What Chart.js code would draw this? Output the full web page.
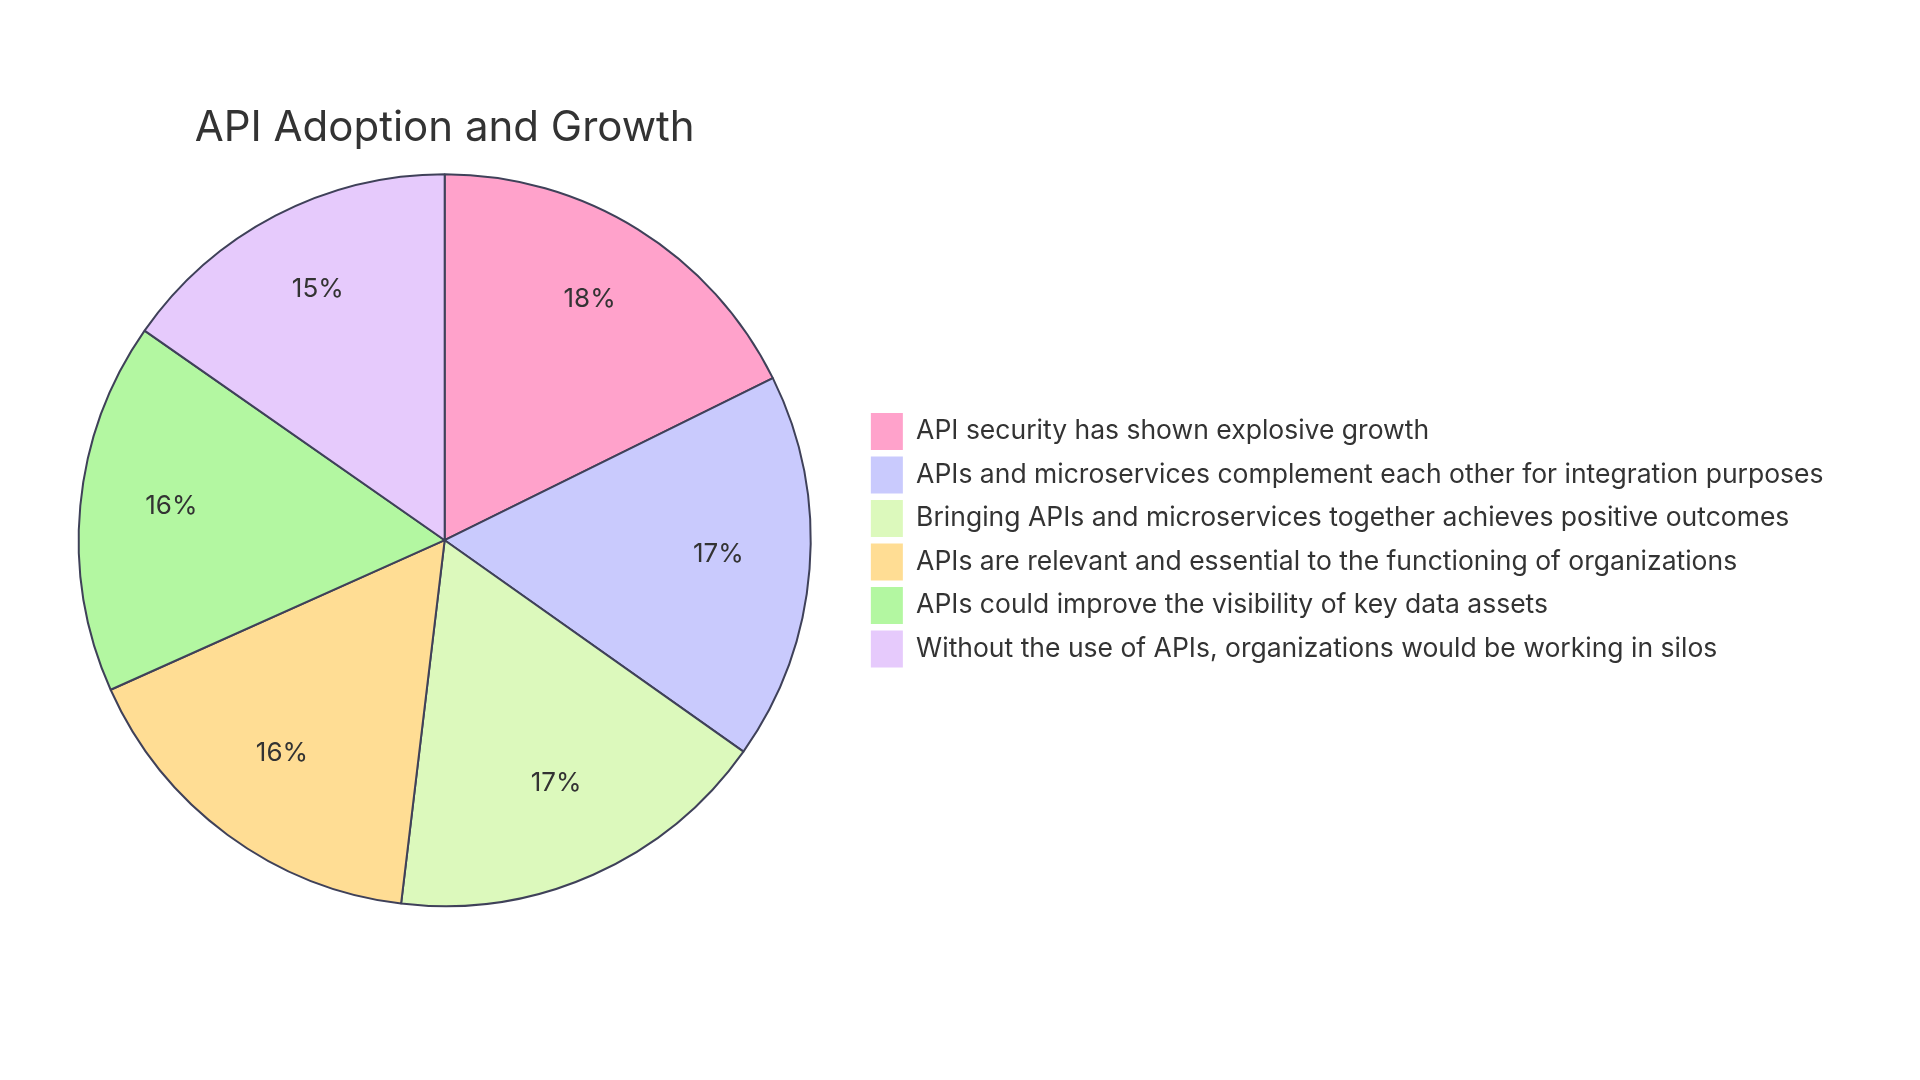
<!DOCTYPE html>
<html>
<head>
<meta charset="utf-8">
<script src="https://cdn.jsdelivr.net/npm/chart.js@4/dist/chart.umd.min.js"></script>
<style>
html,body{margin:0;padding:0;background:#fff;}
#wrap{position:absolute;left:0;top:0;width:1920px;height:1080px;}
</style>
</head>
<body>
<div id="wrap"><canvas id="c" width="1920" height="1080"></canvas></div>
<script>
const chartTitle = "API Adoption and Growth";
const categories = [
  "API security has shown explosive growth",
  "APIs and microservices complement each other for integration purposes",
  "Bringing APIs and microservices together achieves positive outcomes",
  "APIs are relevant and essential to the functioning of organizations",
  "APIs could improve the visibility of key data assets",
  "Without the use of APIs, organizations would be working in silos"
];
const values = [17.7, 17.1, 17.1, 16.4, 16.4, 15.3];
const colors = ["#FFA2CB", "#C9CAFD", "#DCF9BC", "#FFDD94", "#B3F7A1", "#E6CAFC"];
const strokeColor = "#3F4159";
const textColor = "#333333";
const fontFamily = "Inter, 'Noto Sans', sans-serif";

const pctLabels = {
  id: 'pctLabels',
  afterDatasetsDraw(chart) {
    const ctx = chart.ctx;
    const meta = chart.getDatasetMeta(0);
    const data = chart.data.datasets[0].data;
    const total = data.reduce((a, b) => a + b, 0);
    ctx.save();
    ctx.font = "26px " + fontFamily;
    ctx.fillStyle = textColor;
    ctx.textAlign = 'center';
    ctx.textBaseline = 'alphabetic';
    meta.data.forEach((arc, i) => {
      const p = arc.getProps(['x', 'y', 'startAngle', 'endAngle', 'outerRadius'], true);
      const mid = (p.startAngle + p.endAngle) / 2;
      const r = p.outerRadius * 0.75;
      const txt = Math.round(data[i] / total * 100) + '%';
      ctx.fillText(txt, p.x + Math.cos(mid) * r, p.y + Math.sin(mid) * r);
    });
    ctx.restore();
  }
};

new Chart(document.getElementById('c'), {
  type: 'pie',
  data: {
    labels: categories,
    datasets: [{
      data: values,
      backgroundColor: colors,
      borderColor: strokeColor,
      borderWidth: 2,
      radius: 366
    }]
  },
  options: {
    responsive: false,
    animation: false,
    layout: { padding: { left: 25, right: 86.5, top: 0, bottom: 173 } },
    plugins: {
      tooltip: { enabled: false },
      title: {
        display: true,
        text: chartTitle,
        fullSize: false,
        color: textColor,
        font: { family: fontFamily, size: 42, weight: 'normal' },
        padding: { top: 103, bottom: 20 }
      },
      legend: {
        position: 'right',
        align: 'center',
        fullSize: false,
        maxWidth: 1400,
        labels: {
          color: textColor,
          font: { family: fontFamily, size: 26.5 },
          boxWidth: 32,
          boxHeight: 37,
          padding: 6.5,
          generateLabels(chart) {
            const items = Chart.overrides.pie.plugins.legend.labels.generateLabels(chart);
            items.forEach(it => { it.strokeStyle = it.fillStyle; it.lineWidth = 0; });
            return items;
          }
        }
      }
    }
  },
  plugins: [pctLabels]
});
</script>
</body>
</html>
